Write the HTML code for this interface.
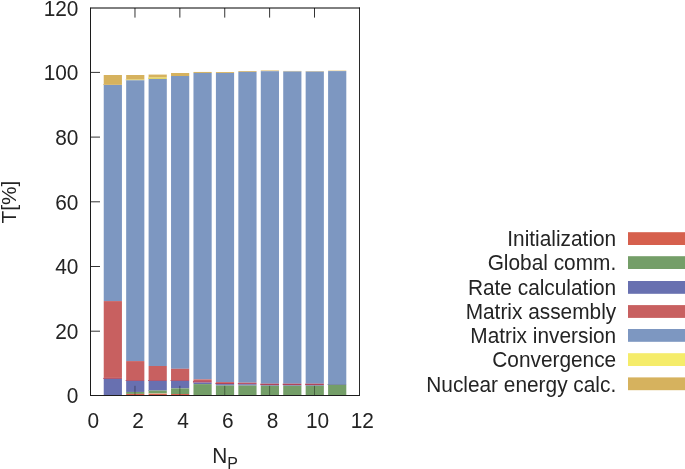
<!DOCTYPE html>
<html><head><meta charset="utf-8"><title>chart</title>
<style>
html,body{margin:0;padding:0;background:#fff;}
body{width:685px;height:469px;overflow:hidden;}
svg{display:block;will-change:transform;opacity:0.9999;}
text{font-family:"Liberation Sans",sans-serif;fill:#242424;}
</style></head><body>
<svg width="685" height="469" viewBox="0 0 685 469">
<rect x="0" y="0" width="685" height="469" fill="#fff"/>

<g>
<rect x="103.73" y="75.00" width="18.20" height="9.30" fill="#D6B25E"/>
<rect x="103.23" y="84.30" width="18.70" height="0.70" fill="#CDA64E"/>
<rect x="103.73" y="85.00" width="18.20" height="216.10" fill="#7D97C1"/>
<rect x="103.73" y="301.10" width="18.20" height="76.80" fill="#C86060"/>
<rect x="103.23" y="377.90" width="18.70" height="1.00" fill="#B2435A"/>
<rect x="103.73" y="378.90" width="18.20" height="16.60" fill="#6870B0"/>
<rect x="126.16" y="75.00" width="18.20" height="4.40" fill="#D6B25E"/>
<rect x="125.66" y="79.40" width="18.70" height="0.90" fill="#DCC75A"/>
<rect x="126.16" y="80.30" width="18.20" height="280.80" fill="#7D97C1"/>
<rect x="126.16" y="361.10" width="18.20" height="18.90" fill="#C86060"/>
<rect x="125.66" y="380.00" width="18.70" height="0.90" fill="#B2435A"/>
<rect x="126.16" y="380.90" width="18.20" height="11.05" fill="#6870B0"/>
<rect x="126.16" y="391.95" width="18.20" height="1.95" fill="#749E68"/>
<rect x="126.16" y="393.90" width="18.20" height="1.60" fill="#D6604D"/>
<rect x="148.60" y="74.40" width="18.20" height="0.50" fill="#E3CB8C"/>
<rect x="148.60" y="74.90" width="18.20" height="2.65" fill="#D6B25E"/>
<rect x="148.10" y="77.55" width="18.70" height="1.35" fill="#E9D952"/>
<rect x="148.60" y="78.90" width="18.20" height="287.10" fill="#7D97C1"/>
<rect x="148.60" y="366.00" width="18.20" height="14.00" fill="#C86060"/>
<rect x="148.10" y="380.00" width="18.70" height="0.90" fill="#B2435A"/>
<rect x="148.60" y="380.90" width="18.20" height="9.20" fill="#6870B0"/>
<rect x="148.10" y="390.10" width="18.70" height="0.50" fill="#5C69A6"/>
<rect x="148.60" y="390.60" width="18.20" height="2.85" fill="#749E68"/>
<rect x="148.60" y="393.45" width="18.20" height="0.35" fill="#E3CB8C"/>
<rect x="148.60" y="393.80" width="18.20" height="1.70" fill="#D6604D"/>
<rect x="171.04" y="73.00" width="18.20" height="3.00" fill="#D6B25E"/>
<rect x="171.04" y="76.00" width="18.20" height="292.80" fill="#7D97C1"/>
<rect x="171.04" y="368.80" width="18.20" height="11.20" fill="#C86060"/>
<rect x="170.54" y="380.00" width="18.70" height="0.90" fill="#B2435A"/>
<rect x="171.04" y="380.90" width="18.20" height="7.50" fill="#6870B0"/>
<rect x="171.04" y="388.40" width="18.20" height="5.60" fill="#749E68"/>
<rect x="171.04" y="394.00" width="18.20" height="1.50" fill="#D6604D"/>
<rect x="193.47" y="71.95" width="18.20" height="1.00" fill="#D6B25E"/>
<rect x="193.47" y="72.95" width="18.20" height="306.45" fill="#7D97C1"/>
<rect x="193.47" y="379.40" width="18.20" height="1.70" fill="#C86060"/>
<rect x="192.97" y="381.10" width="18.70" height="1.50" fill="#B2435A"/>
<rect x="193.47" y="382.60" width="18.20" height="1.50" fill="#6870B0"/>
<rect x="193.47" y="384.10" width="18.20" height="11.00" fill="#749E68"/>
<rect x="193.47" y="395.10" width="18.20" height="0.40" fill="#D6604D"/>
<rect x="215.91" y="72.10" width="18.20" height="0.90" fill="#D6B25E"/>
<rect x="215.91" y="73.00" width="18.20" height="309.00" fill="#7D97C1"/>
<rect x="215.91" y="382.00" width="18.20" height="0.85" fill="#C86060"/>
<rect x="215.41" y="382.85" width="18.70" height="1.30" fill="#B2435A"/>
<rect x="215.91" y="384.15" width="18.20" height="1.35" fill="#6870B0"/>
<rect x="215.91" y="385.50" width="18.20" height="9.70" fill="#749E68"/>
<rect x="215.91" y="395.20" width="18.20" height="0.30" fill="#D6604D"/>
<rect x="238.35" y="71.10" width="18.20" height="0.80" fill="#D6B25E"/>
<rect x="238.35" y="71.90" width="18.20" height="310.80" fill="#7D97C1"/>
<rect x="238.35" y="382.70" width="18.20" height="0.40" fill="#C86060"/>
<rect x="237.85" y="383.10" width="18.70" height="1.15" fill="#B2435A"/>
<rect x="238.35" y="384.25" width="18.20" height="1.25" fill="#6870B0"/>
<rect x="238.35" y="385.50" width="18.20" height="10.00" fill="#749E68"/>
<rect x="260.79" y="70.50" width="18.20" height="0.70" fill="#D6B25E"/>
<rect x="260.79" y="71.20" width="18.20" height="312.50" fill="#7D97C1"/>
<rect x="260.29" y="383.70" width="18.70" height="1.40" fill="#B2435A"/>
<rect x="260.79" y="385.10" width="18.20" height="0.65" fill="#6870B0"/>
<rect x="260.79" y="385.75" width="18.20" height="9.75" fill="#749E68"/>
<rect x="283.22" y="70.95" width="18.20" height="0.55" fill="#D6B25E"/>
<rect x="283.22" y="71.50" width="18.20" height="312.20" fill="#7D97C1"/>
<rect x="282.72" y="383.70" width="18.70" height="1.40" fill="#B2435A"/>
<rect x="283.22" y="385.10" width="18.20" height="0.65" fill="#6870B0"/>
<rect x="283.22" y="385.75" width="18.20" height="9.75" fill="#749E68"/>
<rect x="305.66" y="71.10" width="18.20" height="0.50" fill="#D6B25E"/>
<rect x="305.66" y="71.60" width="18.20" height="312.10" fill="#7D97C1"/>
<rect x="305.16" y="383.70" width="18.70" height="1.40" fill="#B2435A"/>
<rect x="305.66" y="385.10" width="18.20" height="0.65" fill="#6870B0"/>
<rect x="305.66" y="385.75" width="18.20" height="9.75" fill="#749E68"/>
<rect x="328.10" y="70.65" width="18.20" height="0.45" fill="#D6B25E"/>
<rect x="328.10" y="71.10" width="18.20" height="312.90" fill="#7D97C1"/>
<rect x="327.60" y="384.00" width="18.70" height="0.80" fill="#5C69A6"/>
<rect x="328.10" y="384.80" width="18.20" height="10.70" fill="#749E68"/>
</g>
<g stroke="#000" stroke-width="1" fill="none">
<line x1="90.5" y1="331.20" x2="100.0" y2="331.20" stroke-opacity="0.8"/>
<line x1="90.5" y1="266.50" x2="100.0" y2="266.50" stroke-opacity="0.8"/>
<line x1="90.5" y1="201.80" x2="100.0" y2="201.80" stroke-opacity="0.8"/>
<line x1="90.5" y1="137.10" x2="100.0" y2="137.10" stroke-opacity="0.8"/>
<line x1="90.5" y1="72.40" x2="100.0" y2="72.40" stroke-opacity="0.8"/>
<line x1="134.98" y1="395.5" x2="134.98" y2="385.8" stroke-opacity="0.38"/>
<line x1="134.98" y1="8.0" x2="134.98" y2="17.6" stroke-opacity="0.8"/>
<line x1="179.86" y1="395.5" x2="179.86" y2="385.8" stroke-opacity="0.38"/>
<line x1="179.86" y1="8.0" x2="179.86" y2="17.6" stroke-opacity="0.8"/>
<line x1="224.74" y1="395.5" x2="224.74" y2="385.8" stroke-opacity="0.38"/>
<line x1="224.74" y1="8.0" x2="224.74" y2="17.6" stroke-opacity="0.8"/>
<line x1="269.62" y1="395.5" x2="269.62" y2="385.8" stroke-opacity="0.38"/>
<line x1="269.62" y1="8.0" x2="269.62" y2="17.6" stroke-opacity="0.8"/>
<line x1="314.50" y1="395.5" x2="314.50" y2="385.8" stroke-opacity="0.38"/>
<line x1="314.50" y1="8.0" x2="314.50" y2="17.6" stroke-opacity="0.8"/>
</g>
<g stroke="#1c1c1c" stroke-width="1" fill="none"><line x1="90.5" y1="7.5" x2="90.5" y2="396.0"/><line x1="90.0" y1="395.5" x2="360" y2="395.5"/><line x1="359.5" y1="7.5" x2="359.5" y2="395.5" stroke="#2a2a2a"/><line x1="90.5" y1="8.0" x2="360" y2="8.0" stroke="#000"/></g>
<text transform="translate(78.40,403.25) scale(1,1.06)" font-size="20.85" text-anchor="end">0</text>
<text transform="translate(78.40,338.67) scale(1,1.06)" font-size="20.85" text-anchor="end">20</text>
<text transform="translate(78.40,274.08) scale(1,1.06)" font-size="20.85" text-anchor="end">40</text>
<text transform="translate(78.40,209.50) scale(1,1.06)" font-size="20.85" text-anchor="end">60</text>
<text transform="translate(78.40,144.92) scale(1,1.06)" font-size="20.85" text-anchor="end">80</text>
<text transform="translate(78.40,80.33) scale(1,1.06)" font-size="20.85" text-anchor="end">100</text>
<text transform="translate(78.40,15.75) scale(1,1.06)" font-size="20.85" text-anchor="end">120</text>
<text transform="translate(93.30,427.60) scale(1,1.06)" font-size="20.85" text-anchor="middle">0</text>
<text transform="translate(138.14,427.60) scale(1,1.06)" font-size="20.85" text-anchor="middle">2</text>
<text transform="translate(182.98,427.60) scale(1,1.06)" font-size="20.85" text-anchor="middle">4</text>
<text transform="translate(227.82,427.60) scale(1,1.06)" font-size="20.85" text-anchor="middle">6</text>
<text transform="translate(272.66,427.60) scale(1,1.06)" font-size="20.85" text-anchor="middle">8</text>
<text transform="translate(317.50,427.60) scale(1,1.06)" font-size="20.85" text-anchor="middle">10</text>
<text transform="translate(362.34,427.60) scale(1,1.06)" font-size="20.85" text-anchor="middle">12</text>
<text transform="translate(15.85,202.10) rotate(-90) scale(1,0.96)" font-size="20.85" text-anchor="middle">T[%]</text>
<text transform="translate(212.30,463.40) scale(1,1.02)" font-size="20.85" text-anchor="start">N<tspan font-size="16" dy="5">P</tspan></text>
<rect x="628" y="232.2" width="57" height="12.8" fill="#D6604D"/>
<text transform="translate(616.20,246.35) scale(1,1.02)" font-size="20.85" text-anchor="end">Initialization</text>
<rect x="628" y="256.2" width="57" height="12.8" fill="#749E68"/>
<text transform="translate(616.20,270.35) scale(1,1.02)" font-size="20.85" text-anchor="end">Global comm.</text>
<rect x="628" y="281" width="57" height="12.8" fill="#6870B0"/>
<text transform="translate(616.20,295.15) scale(1,1.02)" font-size="20.85" text-anchor="end">Rate calculation</text>
<rect x="628" y="305.1" width="57" height="12.8" fill="#C86060"/>
<text transform="translate(616.20,319.25) scale(1,1.02)" font-size="20.85" text-anchor="end">Matrix assembly</text>
<rect x="628" y="329" width="57" height="12.8" fill="#7D97C1"/>
<text transform="translate(616.20,343.15) scale(1,1.02)" font-size="20.85" text-anchor="end">Matrix inversion</text>
<rect x="628" y="353.2" width="57" height="12.8" fill="#F5EC6A"/>
<text transform="translate(616.20,367.35) scale(1,1.02)" font-size="20.85" text-anchor="end">Convergence</text>
<rect x="628" y="377.4" width="57" height="12.8" fill="#D6B25E"/>
<text transform="translate(616.20,391.55) scale(1,1.02)" font-size="20.85" text-anchor="end">Nuclear energy calc.</text>
</svg></body></html>
